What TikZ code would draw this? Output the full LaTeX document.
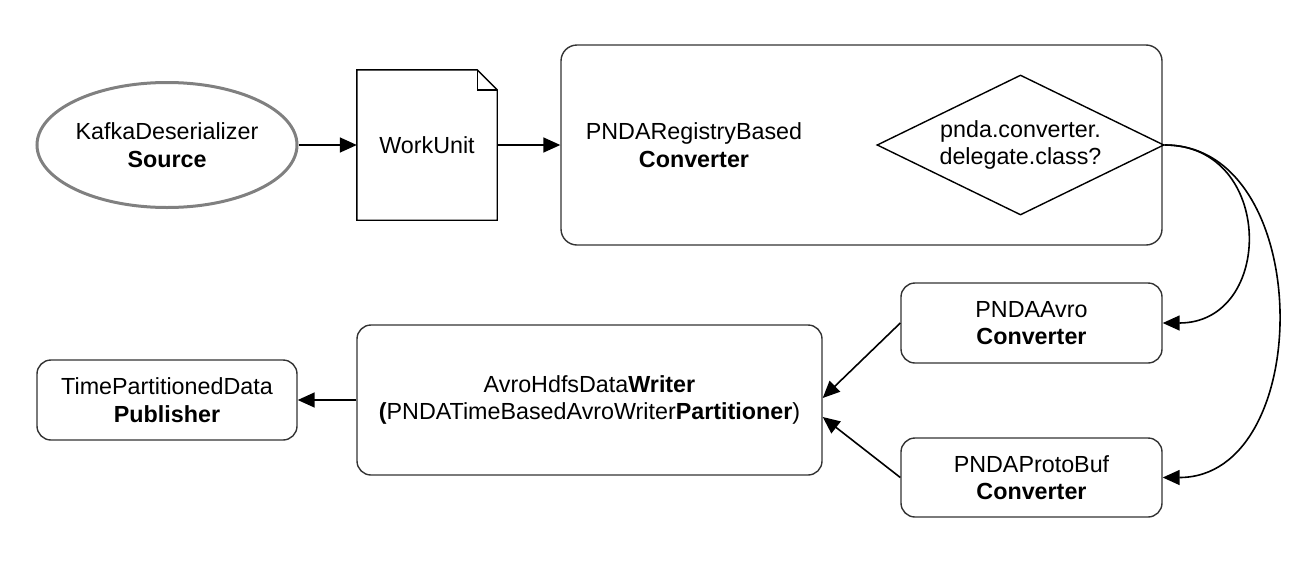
\documentclass[tikz,border=0pt]{standalone}
\usepackage{fontspec}
\setmainfont{Liberation Sans}
\usetikzlibrary{shapes.geometric,arrows.meta}
\definecolor{edgegray}{HTML}{333333}
\definecolor{srcgray}{HTML}{808080}
\begin{document}
\begin{tikzpicture}[x=1pt,y=-1pt,
  every node/.style={font=\fontsize{23.3}{27.5}\selectfont, align=center, inner sep=0pt},
  rbox/.style={draw=edgegray, line width=1.4pt, rounded corners=14pt},
  srcshape/.style={ellipse, draw=srcgray, line width=3pt, minimum width=260pt, minimum height=125pt},
  docshape/.style={rectangle, minimum width=140pt, minimum height=150pt},
  docline/.style={draw=black, line width=1.4pt, line join=miter},
  decision/.style={diamond, draw=black, line width=1.4pt, minimum width=287pt, minimum height=140pt},
  arr/.style={draw=black, line width=1.6pt, -{Triangle[length=17pt,width=15pt]}}
]
\useasboundingbox (0,0) rectangle (1312,568);

% nodes
\node[srcshape] (src) at (167,145) {KafkaDeserializer\\\textbf{Source}};
\node[docshape] (wu) at (427,145) {WorkUnit};
\draw[docline] (wu.north west) -- ([xshift=-20pt]wu.north east) -- ([yshift=-20pt]wu.north east) -- (wu.south east) -- (wu.south west) -- cycle;
\draw[docline] ([xshift=-20pt]wu.north east) -- ([xshift=-20pt,yshift=-20pt]wu.north east) -- ([yshift=-20pt]wu.north east);

\node[rbox, rounded corners=16pt, minimum width=601pt, minimum height=200pt] (conv) at (861.5,145) {};
\node (convtxt) at (694,145) {PNDARegistryBased\\\textbf{Converter}};
\node[decision] (dia) at (1020.5,145) {};
\node (diatxt) at (dia.center) {pnda.converter.\\delegate.class?};

\node[rbox, minimum width=261pt, minimum height=80pt] (avro) at (1031.5,323) {PNDAAvro\\\textbf{Converter}};
\node[rbox, minimum width=261pt, minimum height=79pt] (proto) at (1031.5,477.5) {PNDAProtoBuf\\\textbf{Converter}};
\node[rbox, minimum width=465pt, minimum height=150pt] (writer) at (589.5,400) {AvroHdfsData\textbf{Writer}\\\textbf{(}PNDATimeBasedAvroWriter\textbf{Partitioner})};
\node[rbox, minimum width=260pt, minimum height=80pt] (pub) at (167,400) {TimePartitionedData\\\textbf{Publisher}};

% connectors
\draw[arr] (src.east) -- (wu.west);
\draw[arr] (wu.east) -- (conv.west);
\draw[arr] (dia.east) .. controls (1275,145) and (1275,323) .. (avro.east);
\draw[arr] (dia.east) .. controls (1316,145) and (1316,477.5) .. (proto.east);
\draw[arr] (avro.west) -- ([yshift=2pt]writer.east);
\draw[arr] (proto.west) -- ([yshift=-17pt]writer.east);
\draw[arr] (writer.west) -- (pub.east);
\end{tikzpicture}
\end{document}
